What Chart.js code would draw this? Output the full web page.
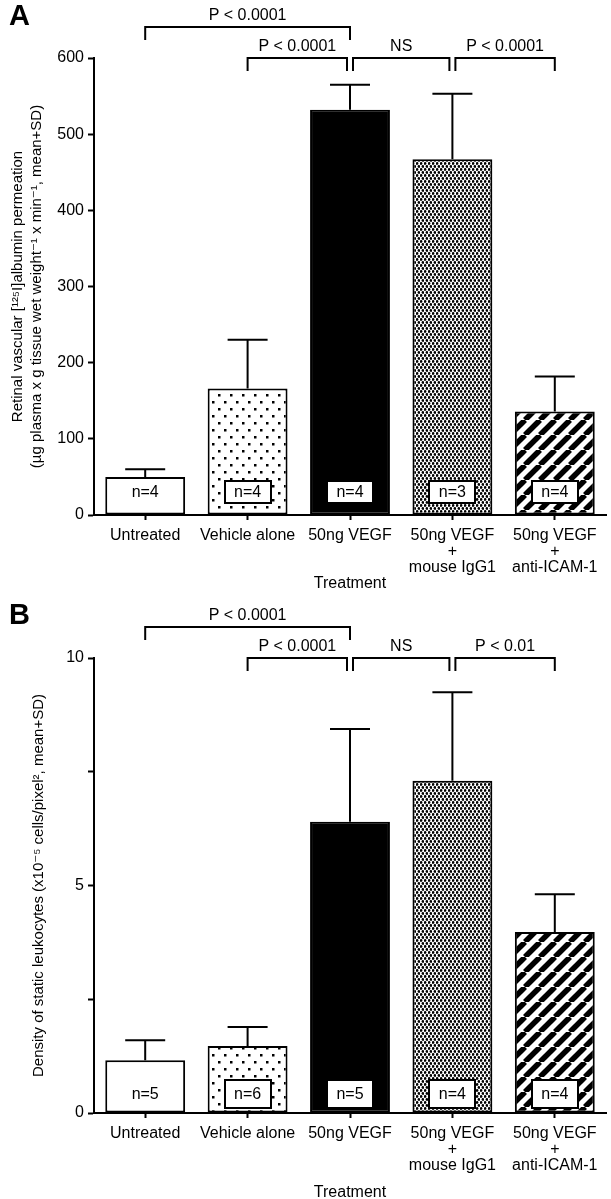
<!DOCTYPE html>
<html>
<head>
<meta charset="utf-8">
<script src="https://cdn.jsdelivr.net/npm/chart.js@4.4.1/dist/chart.umd.min.js"></script>
<style>
  html, body { margin: 0; padding: 0; background: #fff; }
  #boxA { position: absolute; left: 0; top: 0; width: 611px; height: 597px; }
  #boxB { position: absolute; left: 0; top: 597px; width: 611px; height: 606px; }
</style>
</head>
<body>
<div id="boxA"><canvas id="chartA" width="611" height="597"></canvas></div>
<div id="boxB"><canvas id="chartB" width="611" height="606"></canvas></div>
<script>
// categories (multi-line tick labels)
const treatments = [
    ['Untreated'],
    ['Vehicle alone'],
    ['50ng VEGF'],
    ['50ng VEGF', '+', 'mouse IgG1'],
    ['50ng VEGF', '+', 'anti-ICAM-1']
];

// panel A: retinal vascular albumin permeation
const permeationMean = [50, 166, 532, 467, 136];
const permeationSD = [10, 64, 33, 86, 46];
const permeationN = [4, 4, 4, 3, 4];
const permeationTicks = [0, 100, 200, 300, 400, 500, 600];

// panel B: static leukocytes
const leukocyteMean = [1.16, 1.47, 6.40, 7.30, 3.98];
const leukocyteSD = [0.44, 0.42, 2.04, 1.95, 0.83];
const leukocyteN = [5, 6, 5, 4, 4];
const leukocyteTicks = [0, 2.5, 5, 7.5, 10];
const leukocyteLabelled = [0, 5, 10];

// significance brackets: [from category, to category, label, row]
const comparisonsA = [[0, 2, 'P < 0.0001', 0], [1, 2, 'P < 0.0001', 1], [2, 3, 'NS', 1], [3, 4, 'P < 0.0001', 1]];
const comparisonsB = [[0, 2, 'P < 0.0001', 0], [1, 2, 'P < 0.0001', 1], [2, 3, 'NS', 1], [3, 4, 'P < 0.01', 1]];

const FONT = '"Liberation Sans", Arial, Helvetica, "DejaVu Sans", sans-serif';
Chart.defaults.font.family = FONT;
Chart.defaults.color = '#000';

// Fill patterns for the bars
function makePattern(kind) {
    const c = document.createElement('canvas');
    const g = c.getContext('2d');
    if (kind === 'sparse') {
        c.width = 12; c.height = 14;
        g.fillStyle = '#fff'; g.fillRect(0, 0, 12, 14);
        g.fillStyle = '#000';
        g.fillRect(2, 2, 2.5, 2.5);
        g.fillRect(8, 9, 2.5, 2.5);
    } else if (kind === 'dense') {
        c.width = 4; c.height = 6;
        g.fillStyle = '#fff'; g.fillRect(0, 0, 4, 6);
        g.fillStyle = '#000';
        g.beginPath(); g.arc(1, 1.5, 1.4, 0, Math.PI * 2); g.fill();
        g.beginPath(); g.arc(3, 4.5, 1.4, 0, Math.PI * 2); g.fill();
    } else if (kind === 'stripes') {
        const s = 15;
        c.width = s; c.height = s;
        g.fillStyle = '#fff'; g.fillRect(0, 0, s, s);
        g.strokeStyle = '#000'; g.lineWidth = 5.5;
        for (let k = -1; k <= 1; k++) {
            g.beginPath();
            g.moveTo(k * s, s);
            g.lineTo(k * s + s, 0);
            g.stroke();
        }
    }
    return document.createElement('canvas').getContext('2d').createPattern(c, 'repeat');
}

const fills = ['#ffffff', makePattern('sparse'), '#000000', makePattern('dense'), makePattern('stripes')];

// Plugin: error bars, n boxes, brackets, panel letter
const annotate = {
    id: 'annotate',
    afterDatasetsDraw(chart, args, opts) {
        const ctx = chart.ctx;
        const xs = chart.scales.x, ys = chart.scales.y;
        const meta = chart.getDatasetMeta(0);
        const base = ys.getPixelForValue(0);
        ctx.save();
        ctx.strokeStyle = '#000';
        ctx.lineWidth = 2;
        meta.data.forEach((bar, i) => {
            const top = ys.getPixelForValue(opts.means[i] + opts.sds[i]);
            ctx.beginPath();
            ctx.moveTo(bar.x, bar.y);
            ctx.lineTo(bar.x, top);
            ctx.moveTo(bar.x - 20, top);
            ctx.lineTo(bar.x + 20, top);
            ctx.stroke();

            const bw = 46, bh = opts.boxH;
            const bx = Math.round(bar.x - bw / 2), by = Math.round(base - opts.boxGap - bh);
            ctx.fillStyle = '#fff';
            ctx.fillRect(bx, by, bw, bh);
            if (fills[i] !== '#ffffff') ctx.strokeRect(bx, by, bw, bh);
            ctx.fillStyle = '#000';
            ctx.font = '16px ' + FONT;
            ctx.textAlign = 'center';
            ctx.textBaseline = 'middle';
            ctx.fillText('n=' + opts.ns[i], bar.x, by + bh / 2 + 1);
        });

        // brackets
        const top = chart.chartArea.top;
        opts.comparisons.forEach((self) => {
            const [a, b, label, row] = self;
            const shared = idx => opts.comparisons.some(c => c !== self && c[3] === row && (c[0] === idx || c[1] === idx));
            let x1 = xs.getPixelForValue(a), x2 = xs.getPixelForValue(b);
            if (shared(a)) x1 += 3;
            if (shared(b)) x2 -= 3;
            const yy = Math.round(top - (row === 0 ? 31 : 0));
            ctx.beginPath();
            ctx.moveTo(x1, yy + 13);
            ctx.lineTo(x1, yy);
            ctx.lineTo(x2, yy);
            ctx.lineTo(x2, yy + 13);
            ctx.stroke();
            ctx.font = '16px ' + FONT;
            ctx.textAlign = 'center';
            ctx.textBaseline = 'middle';
            ctx.fillText(label, (x1 + x2) / 2, yy - 11);
        });

        ctx.font = 'bold 29px ' + FONT;
        ctx.textAlign = 'left';
        ctx.textBaseline = 'middle';
        ctx.fillText(opts.letter, 9, opts.letterY);
        ctx.restore();
    }
};

function buildChart(id, cfg) {
    const ctx = document.getElementById(id).getContext('2d');
    return new Chart(ctx, {
        type: 'bar',
        data: {
            labels: treatments,
            datasets: [{
                data: cfg.means,
                backgroundColor: fills,
                borderColor: '#000',
                borderWidth: 2,
                borderSkipped: false,
                barPercentage: 0.78,
                categoryPercentage: 1.0
            }]
        },
        options: {
            responsive: false,
            animation: false,
            devicePixelRatio: 1,
            layout: { padding: { top: cfg.padTop, right: 5, left: 0, bottom: 0 } },
            plugins: {
                legend: { display: false },
                tooltip: { enabled: false },
                annotate: {
                    means: cfg.means, sds: cfg.sds, ns: cfg.ns, comparisons: cfg.comparisons,
                    letter: cfg.letter, letterY: cfg.letterY, boxH: cfg.boxH, boxGap: cfg.boxGap
                }
            },
            scales: {
                x: {
                    offset: true,
                    grid: { offset: false, drawOnChartArea: false, drawTicks: true, tickLength: 5, tickColor: '#000', tickWidth: 2 },
                    border: { color: '#000', width: 2 },
                    ticks: { font: { size: 16, lineHeight: 1.0 }, padding: 8, maxRotation: 0, autoSkip: false },
                    title: { display: true, text: 'Treatment', font: { size: 16, lineHeight: 1.2 }, padding: { top: 0, bottom: cfg.titlePad } },
                    afterFit(scale) { scale.height = cfg.xHeight; }
                },
                y: {
                    min: 0,
                    max: cfg.ticks[cfg.ticks.length - 1],
                    grid: { drawOnChartArea: false, drawTicks: true, tickLength: 6, tickColor: '#000', tickWidth: 2 },
                    border: { color: '#000', width: 2 },
                    afterBuildTicks(scale) { scale.ticks = cfg.ticks.map(v => ({ value: v })); },
                    ticks: {
                        font: { size: 16 },
                        padding: 4,
                        callback: cfg.tickLabel
                    },
                    title: { display: true, text: cfg.yTitle, font: { size: 15, lineHeight: 1.3 }, padding: { top: cfg.yTitlePad, bottom: 0 } },
                    afterFit(scale) { scale.width = 94; }
                }
            }
        },
        plugins: [annotate]
    });
}

buildChart('chartA', {
    means: permeationMean, sds: permeationSD, ns: permeationN, comparisons: comparisonsA,
    ticks: permeationTicks,
    tickLabel: v => String(v),
    yTitle: ['Retinal vascular [\u00B9\u00B2\u2075I]albumin permeation',
             '(\u00B5g plasma x g tissue wet weight\u207B\u00B9 x min\u207B\u00B9, mean+SD)'],
    yTitlePad: 8,
    letter: 'A', letterY: 17,
    padTop: 58, xHeight: 82, titlePad: 4,
    boxH: 22, boxGap: 12
});

buildChart('chartB', {
    means: leukocyteMean, sds: leukocyteSD, ns: leukocyteN, comparisons: comparisonsB,
    ticks: leukocyteTicks,
    tickLabel: v => leukocyteLabelled.includes(v) ? String(v) : '',
    yTitle: 'Density of static leukocytes (x10\u207B\u2075 cells/pixel\u00B2, mean+SD)',
    yTitlePad: 29,
    letter: 'B', letterY: 19,
    padTop: 61, xHeight: 90, titlePad: 1,
    boxH: 28, boxGap: 5
});
</script>
</body>
</html>
